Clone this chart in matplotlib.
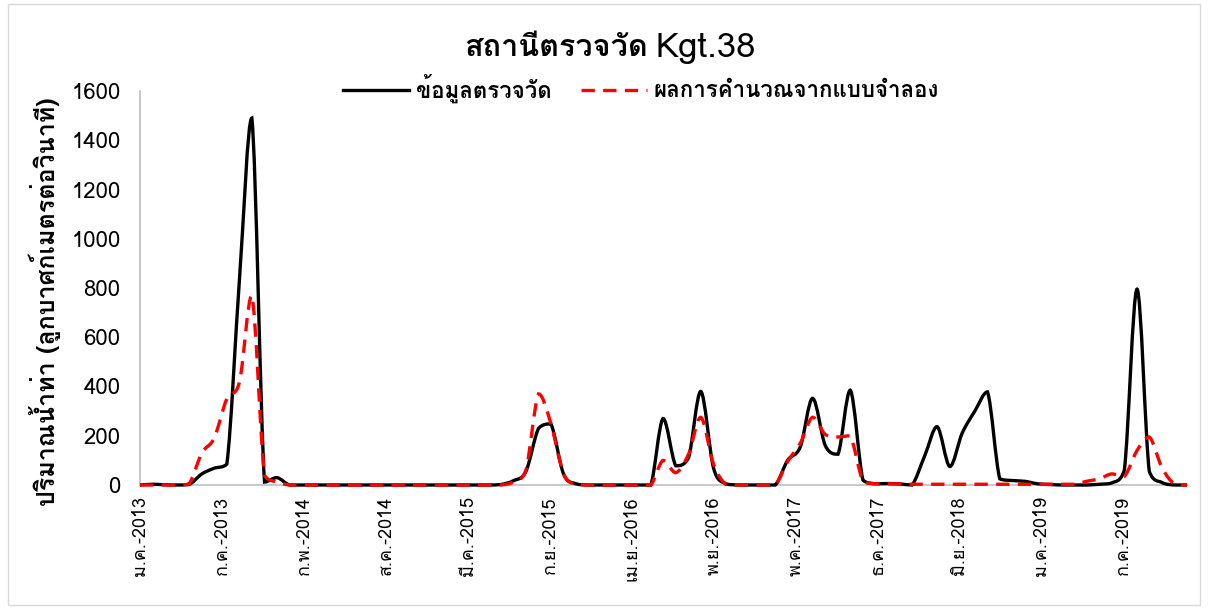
import numpy as np
import pandas as pd
import matplotlib
matplotlib.use('Agg')
import matplotlib.pyplot as plt
import matplotlib.dates as mdates
from matplotlib.path import Path
from matplotlib.patches import PathPatch, Rectangle
from matplotlib.lines import Line2D
from matplotlib import font_manager, ft2font

# ข้อมูลรายเดือน ม.ค. 2013 - ม.ค. 2020
months = pd.date_range('2013-01-01', periods=85, freq='MS')

observed = [0, 3, 1, 0, 2, 45, 68, 85, 840, 1490, 12, 30,
            0, 0, 0, 0, 0, 0, 0, 0, 0, 0, 0, 0,
            0, 0, 0, 0, 0, 2, 17, 55, 230, 248, 45, 5,
            0, 0, 0, 0, 0, 0, 270, 78, 110, 380, 70, 5,
            0, 0, 0, 0, 100, 155, 352, 160, 125, 385, 20, 5,
            6, 4, 0, 120, 237, 75, 210, 300, 378, 25, 18, 15,
            5, 2, 0, 0, 0, 3, 8, 60, 795, 55, 10, 0,
            0]

simulated = [0, 0, 0, 0, 5, 130, 190, 350, 420, 770, 40, 12,
             0, 0, 0, 0, 0, 0, 0, 0, 0, 0, 0, 0,
             0, 0, 0, 0, 0, 0, 12, 60, 370, 250, 45, 3,
             0, 0, 0, 0, 0, 0, 100, 50, 125, 275, 85, 3,
             0, 0, 0, 0, 95, 170, 275, 205, 195, 200, 15, 5,
             5, 4, 3, 3, 3, 3, 3, 3, 3, 3, 3, 3,
             3, 3, 3, 3, 15, 25, 45, 35, 140, 195, 70, 5,
             0]

tick_labels = ['ม.ค.-2013', 'ก.ค.-2013', 'ก.พ.-2014', 'ส.ค.-2014', 'มี.ค.-2015',
               'ก.ย.-2015', 'เม.ย.-2016', 'พ.ย.-2016', 'พ.ค.-2017', 'ธ.ค.-2017',
               'มิ.ย.-2018', 'ม.ค.-2019', 'ก.ค.-2019']

title_thai = 'สถานีตรวจวัด'
title_code = 'Kgt.38'
label_obs = 'ข้อมูลตรวจวัด'
label_sim = 'ผลการคำนวณจากแบบจำลอง'
ylabel_text = 'ปริมาณน้ำท่า (ลูกบาศก์เมตรต่อวินาที)'


# หา font ที่มีอักษรไทย
def find_thai_font():
    for f in font_manager.fontManager.ttflist:
        try:
            if 0x0E2A in ft2font.FT2Font(f.fname).get_charmap():
                return f.name
        except Exception:
            pass
    return None


thai = find_thai_font()
families = ([thai] if thai else []) + ['DejaVu Sans']
plt.rcParams['font.family'] = families


# เส้นโค้งแบบ smoothed line ของ Excel (Bezier) - จำกัดไม่ให้เกินช่วงข้อมูล
def smooth_path(x, y):
    x = np.asarray(x, float)
    y = np.asarray(y, float)
    n = len(x)
    verts = [(x[0], y[0])]
    codes = [Path.MOVETO]
    for i in range(n - 1):
        a = max(i - 1, 0)
        b = min(i + 2, n - 1)
        lo, hi = min(y[i], y[i + 1]), max(y[i], y[i + 1])
        c1y = np.clip(y[i] + (y[i + 1] - y[a]) / 6, lo, hi)
        c2y = np.clip(y[i + 1] - (y[b] - y[i]) / 6, lo, hi)
        c1 = (x[i] + (x[i + 1] - x[a]) / 6, c1y)
        c2 = (x[i + 1] - (x[b] - x[i]) / 6, c2y)
        verts += [c1, c2, (x[i + 1], y[i + 1])]
        codes += [Path.CURVE4] * 3
    return Path(verts, codes)


fig = plt.figure(figsize=(12.09, 6.08), dpi=100)
ax = fig.add_axes([140 / 1209, 1 - 485 / 608, 1047 / 1209, 394 / 608])

xd = mdates.date2num(months)
dash = (0, (4, 2.5))
ax.add_patch(PathPatch(smooth_path(xd, observed), fill=False, edgecolor='black',
                       lw=2.4, clip_on=False, zorder=3))
ax.add_patch(PathPatch(smooth_path(xd, simulated), fill=False, edgecolor='#ff0000',
                       lw=2.4, linestyle=dash, clip_on=False, zorder=4))

ax.set_xlim(xd[0], xd[-1])
ax.set_ylim(0, 1600)
ax.set_yticks(np.arange(0, 1601, 200))

tick_dates = mdates.date2num(pd.date_range('2013-01-01', periods=len(tick_labels), freq='200D'))
ax.set_xticks(tick_dates)
ax.set_xticklabels(tick_labels, rotation=90, fontsize=13)

ax.tick_params(axis='y', length=0, labelsize=16, pad=14)
ax.tick_params(axis='x', length=0, pad=8)
for s in ['top', 'right']:
    ax.spines[s].set_visible(False)
for s in ['left', 'bottom']:
    ax.spines[s].set_color('#bfbfbf')
    ax.spines[s].set_linewidth(1.2)

fig.text(648 / 1209, 1 - 48 / 608, title_thai, fontsize=22, fontweight='bold',
         ha='right', va='center')
fig.text(655 / 1209, 1 - 48 / 608, title_code, fontsize=25, ha='left', va='center')
fig.text(45 / 1209, 1 - 302 / 608, ylabel_text, fontsize=18, fontweight='bold',
         rotation=90, ha='center', va='center')

handles = [Line2D([], [], color='black', lw=2.4),
           Line2D([], [], color='#ff0000', lw=2.4, linestyle=dash)]
fig.legend(handles, [label_obs, label_sim], loc='center',
           bbox_to_anchor=(641 / 1209, 1 - 88 / 608), ncol=2, frameon=False,
           prop={'size': 16, 'weight': 'bold'}, handlelength=3.0,
           columnspacing=1.3, handletextpad=0.3)

fig.add_artist(Rectangle((8 / 1209, 3 / 608), 1192 / 1209, 601 / 608,
                         transform=fig.transFigure, fill=False,
                         edgecolor='#d9d9d9', lw=1))

fig.savefig('out.png', dpi=100)
